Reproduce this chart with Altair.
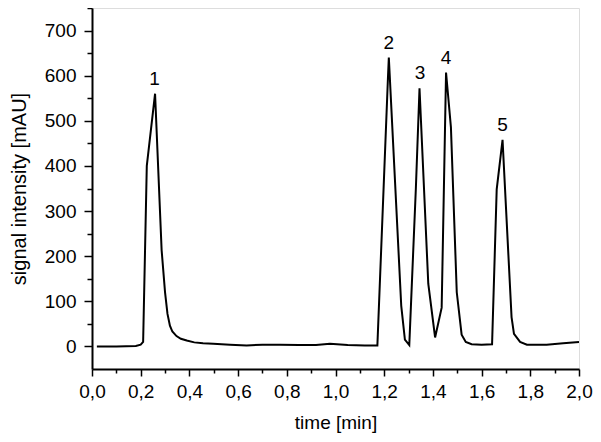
import altair as alt
import pandas as pd

# chromatogram trace
time_min = [0.02, 0.10, 0.18, 0.20, 0.21, 0.225, 0.259, 0.286, 0.300, 0.310, 0.320,
            0.330, 0.347, 0.365, 0.389, 0.42, 0.456, 0.498, 0.567, 0.635, 0.70, 0.772,
            0.85, 0.92, 0.977, 1.05, 1.12, 1.172, 1.215, 1.219, 1.27, 1.285, 1.303,
            1.33, 1.345, 1.381, 1.409, 1.436, 1.454, 1.474, 1.498, 1.518, 1.535,
            1.559, 1.60, 1.643, 1.662, 1.686, 1.723, 1.733, 1.758, 1.786, 1.867,
            1.935, 2.0]
signal_mau = [0, 0, 1, 4, 10, 400, 560, 213, 120, 72, 46,
              33, 23, 17, 13, 9, 7, 6, 4, 2, 4, 4,
              3, 3, 6, 3, 2, 2, 590, 640, 90, 15, 3,
              350, 572, 139, 20, 86, 607, 486, 120, 26, 10,
              5, 4, 5, 348, 458, 65, 28, 10, 4, 4,
              7, 10]

peak_names = ["1", "2", "3", "4", "5"]
peak_times = [0.257, 1.219, 1.347, 1.454, 1.686]
peak_heights = [560, 640, 572, 607, 458]

x_major = [0.0, 0.2, 0.4, 0.6, 0.8, 1.0, 1.2, 1.4, 1.6, 1.8, 2.0]
x_minor = [0.1, 0.3, 0.5, 0.7, 0.9, 1.1, 1.3, 1.5, 1.7, 1.9]
y_major = [0, 100, 200, 300, 400, 500, 600, 700]
y_minor = [50, 150, 250, 350, 450, 550, 650, 750]

trace = pd.DataFrame({"t": time_min, "s": signal_mau})
peaks = pd.DataFrame({"name": peak_names, "t": peak_times, "s": peak_heights})

FONT = "Liberation Sans"
xscale = alt.Scale(domain=[0, 2], nice=False, zero=False)
yscale = alt.Scale(domain=[-50, 750], nice=False, zero=False)

x_axis = alt.Axis(values=x_major, orient="bottom", tickSize=7, tickWidth=1.5,
                  labelExpr="replace(format(datum.value, '.1f'), '.', ',')",
                  labelFlush=False, labelOverlap=False, labelPadding=6,
                  labelFontSize=19, titleFontSize=19, titlePadding=12,
                  title="time [min]", grid=False, domainWidth=2,
                  domainColor="black", tickColor="black", labelColor="black",
                  titleColor="black", labelFont=FONT, titleFont=FONT,
                  titleFontWeight="normal")
y_axis = alt.Axis(values=y_major, orient="left", tickSize=8, tickWidth=1.5,
                  labelPadding=8, labelFontSize=19, titleFontSize=20,
                  titlePadding=15, title="signal intensity [mAU]", grid=False,
                  domainWidth=2, domainColor="black", tickColor="black",
                  labelColor="black", titleColor="black", labelFont=FONT,
                  titleFont=FONT, titleFontWeight="normal")

x_minor_axis = alt.Axis(values=x_minor, orient="bottom", tickSize=4, tickWidth=1.5,
                        labels=False, domain=False, title=None, grid=False,
                        tickColor="black")
y_minor_axis = alt.Axis(values=y_minor, orient="left", tickSize=5, tickWidth=1.5,
                        labels=False, domain=False, title=None, grid=False,
                        tickColor="black")

line = alt.Chart(trace).mark_line(color="black", strokeWidth=2).encode(
    x=alt.X("t:Q", scale=xscale, axis=x_axis),
    y=alt.Y("s:Q", scale=yscale, axis=y_axis),
)

minor = alt.Chart(trace).mark_line(opacity=0).encode(
    x=alt.X("t:Q", scale=xscale, axis=x_minor_axis),
    y=alt.Y("s:Q", scale=yscale, axis=y_minor_axis),
)

labels = alt.Chart(peaks).mark_text(font=FONT, fontSize=19, color="black",
                                    baseline="middle", dy=-15).encode(
    x=alt.X("t:Q", scale=xscale, axis=None),
    y=alt.Y("s:Q", scale=yscale, axis=None),
    text="name:N",
)

chart = alt.layer(line, labels, minor).resolve_axis(
    x="independent", y="independent"
).properties(
    width=487, height=361,
    autosize=alt.AutoSizeParams(type="none"),
    padding={"left": 84, "top": 0, "right": 14, "bottom": 65},
).configure_view(stroke=None).configure(background="white")

chart.save("out.html", embed_options={"renderer": "svg", "actions": False})
